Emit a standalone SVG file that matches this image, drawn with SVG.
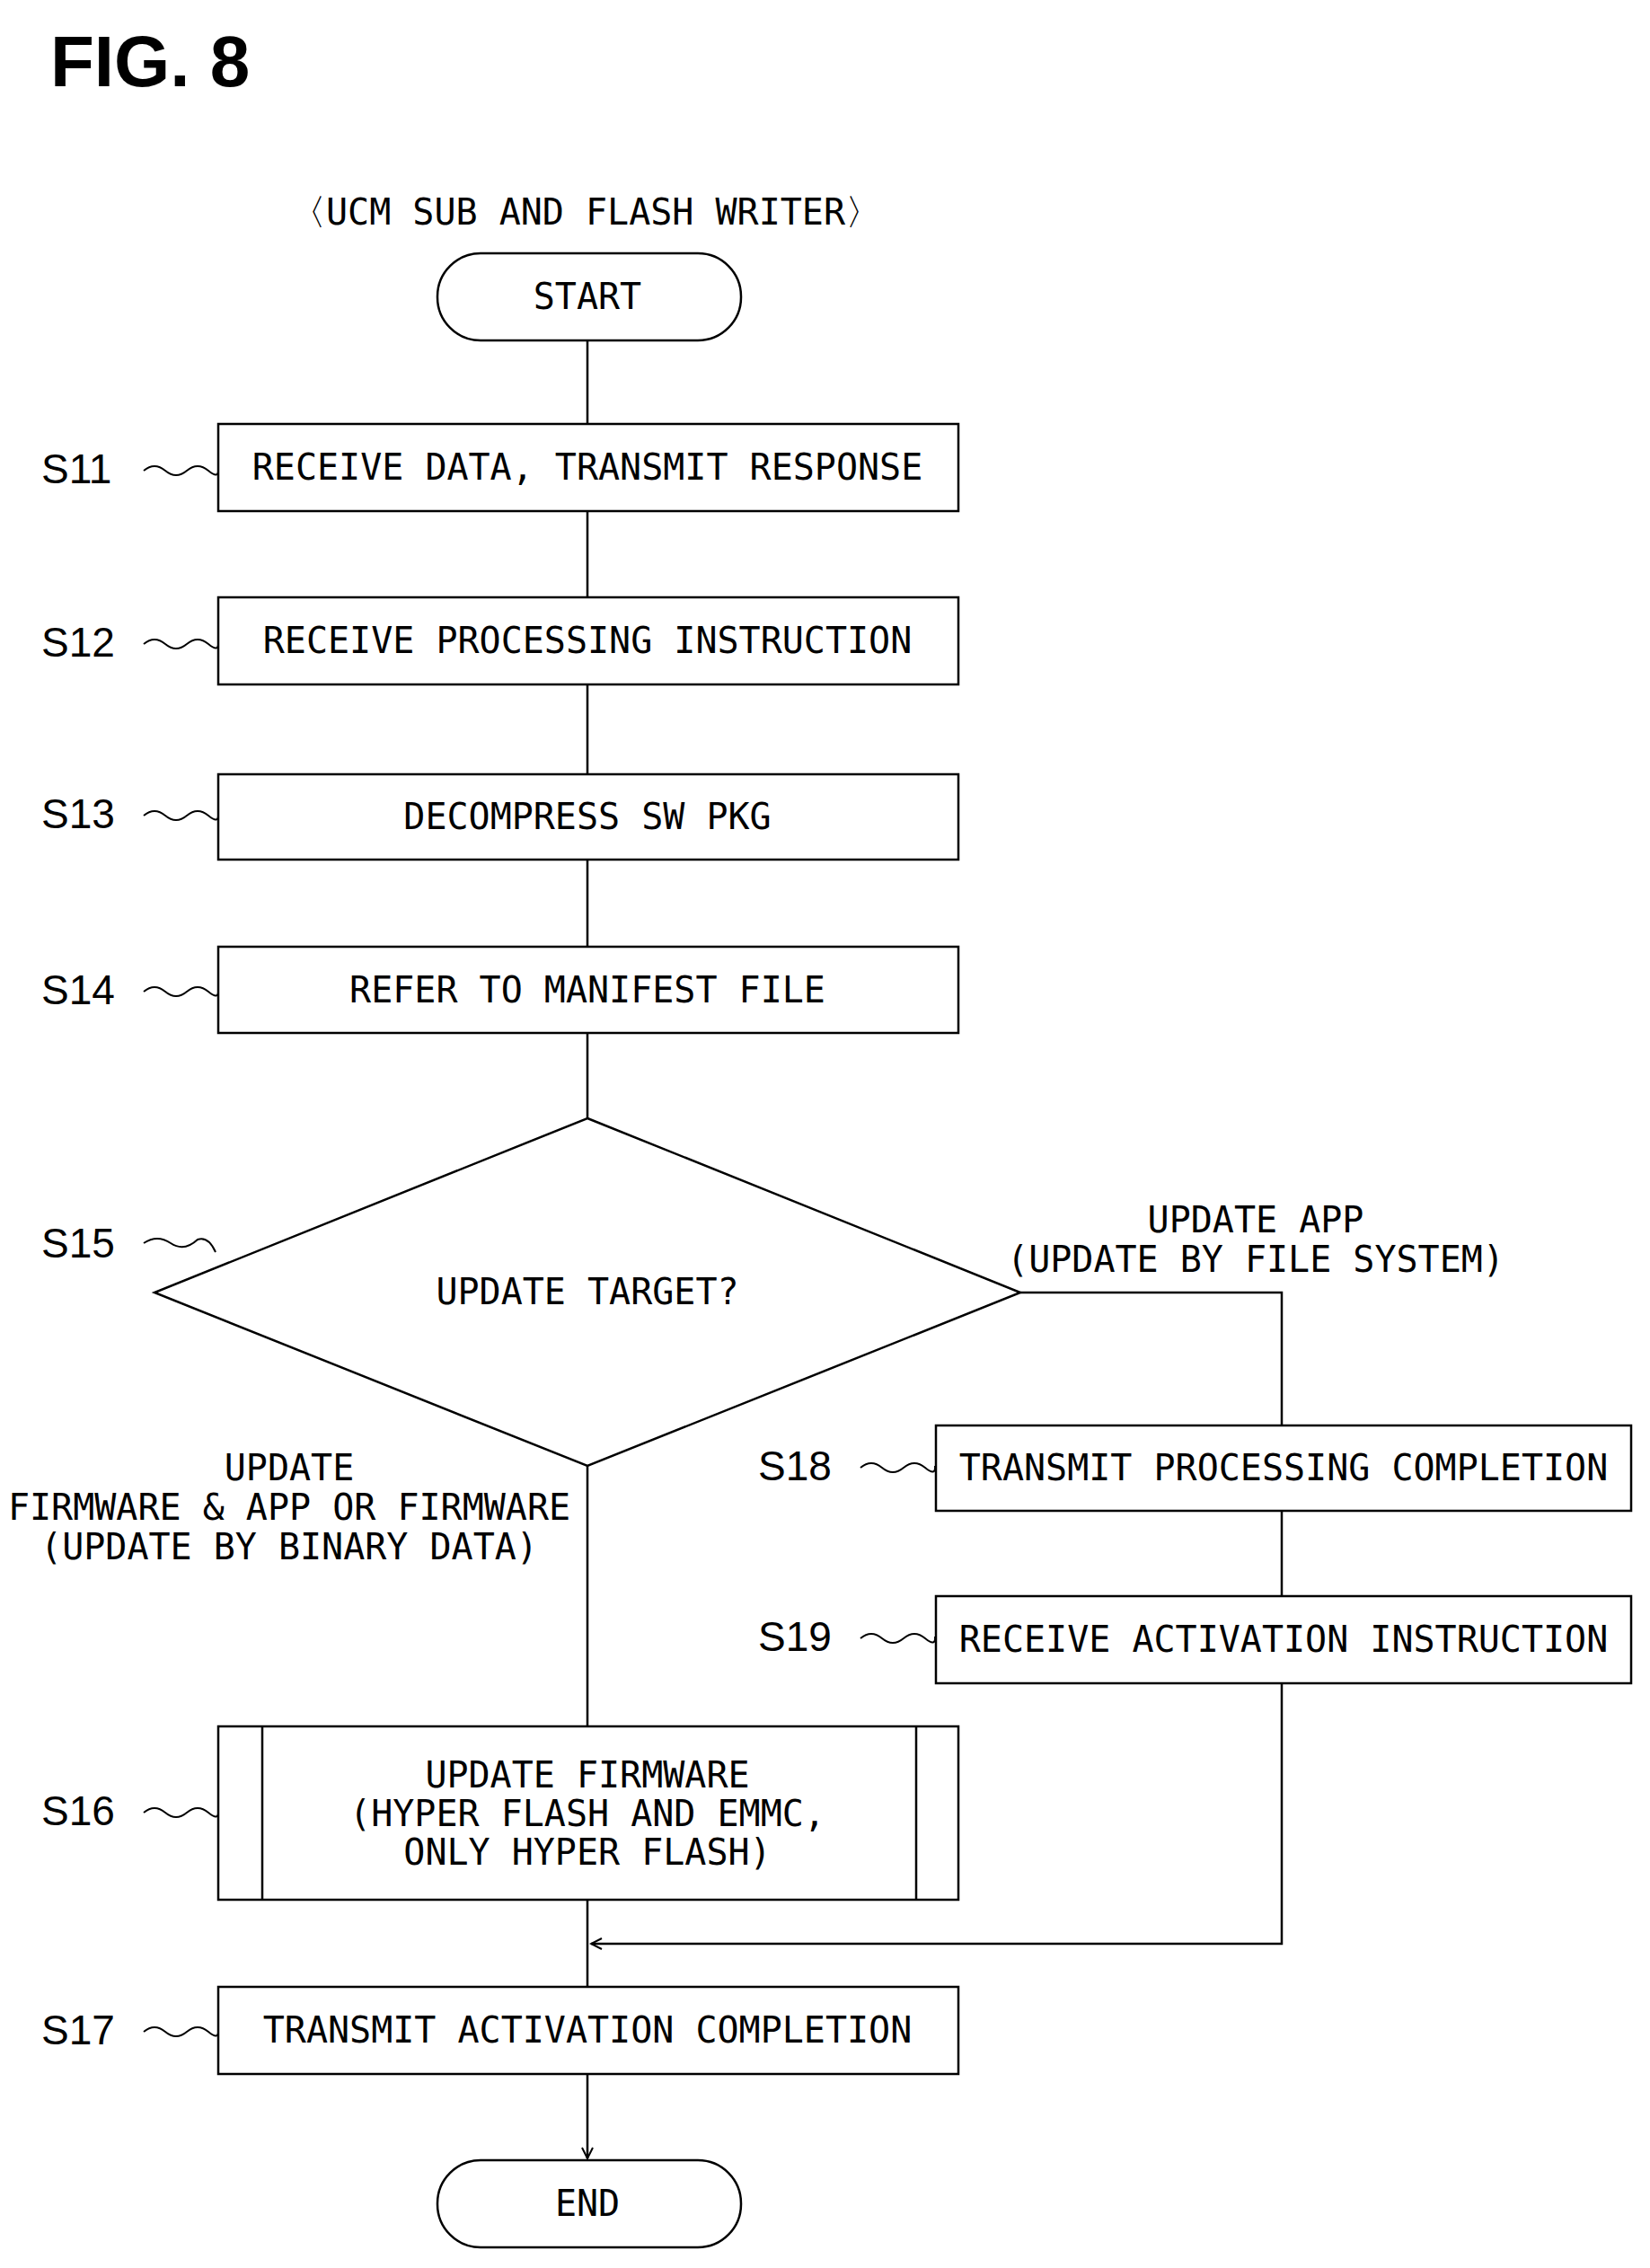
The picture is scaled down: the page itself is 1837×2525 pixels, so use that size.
<svg xmlns="http://www.w3.org/2000/svg" width="1837" height="2525" viewBox="0 0 1837 2525">
<style>
.b{fill:#fff;stroke:#000;stroke-width:2.5}
.c{fill:none;stroke:#000;stroke-width:2.5}
.t{font-family:"DejaVu Sans Mono",monospace;font-size:40px;text-anchor:middle}
.s{font-family:"Liberation Sans",sans-serif;font-size:46px}
.w{fill:none;stroke:#000;stroke-width:2}
</style>
<defs><marker id="a" markerWidth="16" markerHeight="16" refX="14" refY="8" orient="auto" markerUnits="userSpaceOnUse"><path d="M2,2 L14,8 L2,14" fill="none" stroke="#000" stroke-width="2"/></marker></defs>
<rect width="1837" height="2525" fill="#fff"/>
<text x="56" y="96" font-family="Liberation Sans,sans-serif" font-weight="bold" font-size="80">FIG. 8</text>
<text class="t" x="652" y="250">〈UCM SUB AND FLASH WRITER〉</text>
<g id="connectors">
<path class="c" d="M654,379 V472 M654,569 V665 M654,762 V862 M654,957 V1054 M654,1150 V1245 M654,1632 V1922"/>
<path class="c" d="M1136,1439 H1427 V1587 M1427,1682 V1777 M1427,1874 V2164 H658" marker-end="url(#a)"/>
<path class="c" d="M654,2115 V2212 M654,2309 V2403" marker-end="url(#a)"/>
</g>
<g id="start"><rect class="b" x="487" y="282" width="338" height="97" rx="48"/><text class="t" x="654" y="344">START</text></g>
<g id="s11"><rect class="b" x="243" y="472" width="824" height="97"/><text class="t" x="654" y="534">RECEIVE DATA, TRANSMIT RESPONSE</text><text class="s" x="46" y="538">S11</text><path class="w" d="M160,524 q12,-10 24,0 t24,0 t24,0 t11,-2"/></g>
<g id="s12"><rect class="b" x="243" y="665" width="824" height="97"/><text class="t" x="654" y="727">RECEIVE PROCESSING INSTRUCTION</text><text class="s" x="46" y="731">S12</text><path class="w" d="M160,717 q12,-10 24,0 t24,0 t24,0 t11,-2"/></g>
<g id="s13"><rect class="b" x="243" y="862" width="824" height="95"/><text class="t" x="654" y="923">DECOMPRESS SW PKG</text><text class="s" x="46" y="922">S13</text><path class="w" d="M160,908 q12,-10 24,0 t24,0 t24,0 t11,-2"/></g>
<g id="s14"><rect class="b" x="243" y="1054" width="824" height="96"/><text class="t" x="654" y="1116">REFER TO MANIFEST FILE</text><text class="s" x="46" y="1118">S14</text><path class="w" d="M160,1104 q12,-10 24,0 t24,0 t24,0 t11,-2"/></g>
<g id="s15"><path class="b" d="M654,1245 L1136,1439 L654,1632 L172,1439 Z"/><text class="t" x="654" y="1452">UPDATE TARGET?</text><text class="s" x="46" y="1400">S15</text><path class="w" d="M160,1384 q15,-10 30,0 t30,-4 q12,-4 20,14"/>
<text class="t" x="1398" y="1372">UPDATE APP</text><text class="t" x="1398" y="1416">(UPDATE BY FILE SYSTEM)</text>
<text class="t" x="322" y="1648">UPDATE</text><text class="t" x="322" y="1692">FIRMWARE &amp; APP OR FIRMWARE</text><text class="t" x="322" y="1736">(UPDATE BY BINARY DATA)</text></g>
<g id="s18"><rect class="b" x="1042" y="1587" width="774" height="95"/><text class="t" x="1429" y="1648">TRANSMIT PROCESSING COMPLETION</text><text class="s" x="844" y="1648">S18</text><path class="w" d="M958,1634 q12,-10 24,0 t24,0 t24,0 t11,-2"/></g>
<g id="s19"><rect class="b" x="1042" y="1777" width="774" height="97"/><text class="t" x="1429" y="1839">RECEIVE ACTIVATION INSTRUCTION</text><text class="s" x="844" y="1838">S19</text><path class="w" d="M958,1824 q12,-10 24,0 t24,0 t24,0 t11,-2"/></g>
<g id="s16"><rect class="b" x="243" y="1922" width="824" height="193"/><path class="c" d="M292,1922 V2115 M1020,1922 V2115"/><text class="t" x="654" y="1990">UPDATE FIRMWARE</text><text class="t" x="654" y="2033">(HYPER FLASH AND EMMC,</text><text class="t" x="654" y="2076">ONLY HYPER FLASH)</text><text class="s" x="46" y="2032">S16</text><path class="w" d="M160,2018 q12,-10 24,0 t24,0 t24,0 t11,-2"/></g>
<g id="s17"><rect class="b" x="243" y="2212" width="824" height="97"/><text class="t" x="654" y="2274">TRANSMIT ACTIVATION COMPLETION</text><text class="s" x="46" y="2276">S17</text><path class="w" d="M160,2262 q12,-10 24,0 t24,0 t24,0 t11,-2"/></g>
<g id="end"><rect class="b" x="487" y="2405" width="338" height="97" rx="48"/><text class="t" x="654" y="2467">END</text></g>
</svg>
